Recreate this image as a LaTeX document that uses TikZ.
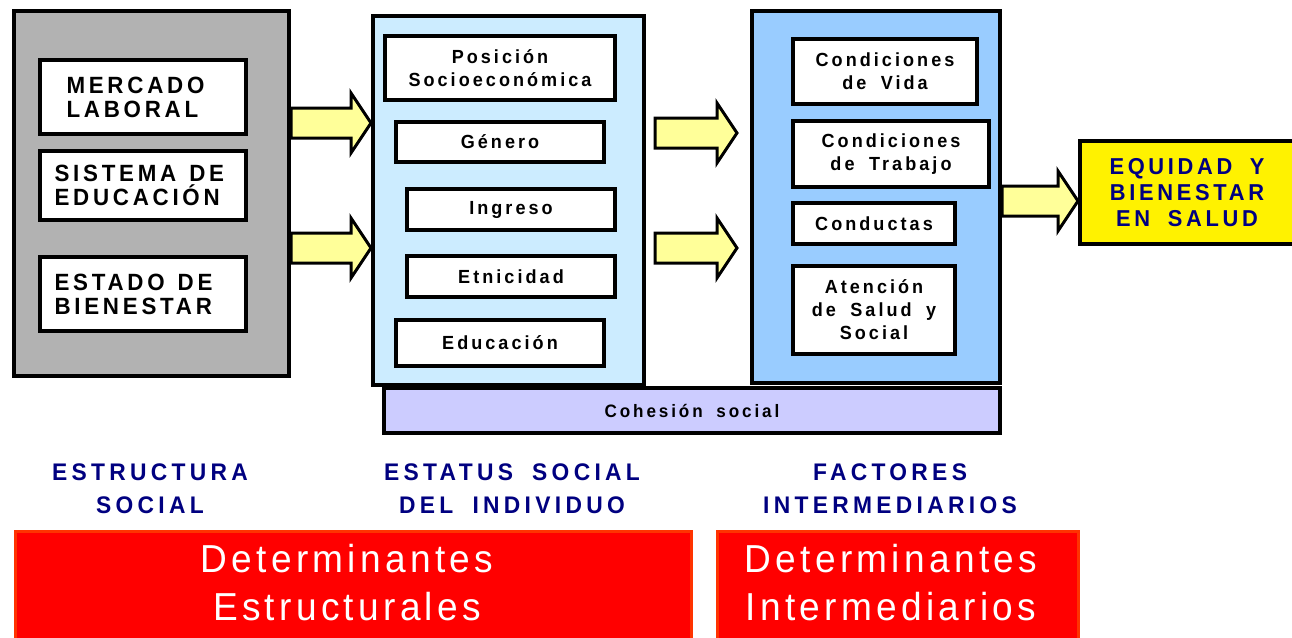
\documentclass[tikz,border=0pt]{standalone}
\usepackage{fontspec}
\setmainfont{Liberation Sans}[FakeStretch=0.95,LetterSpace=16,WordSpace=1.8]
\newfontfamily\labfont{Liberation Sans}[FakeStretch=0.95,LetterSpace=18,WordSpace=1.8]
\newfontfamily\redfont{Liberation Sans}[FakeStretch=0.95,LetterSpace=11]
\usetikzlibrary{calc}
\definecolor{grayfill}{HTML}{B2B2B2}
\definecolor{lblue}{HTML}{CCECFF}
\definecolor{mblue}{HTML}{99CCFF}
\definecolor{lav}{HTML}{CCCCFF}
\definecolor{arrowy}{HTML}{FFFF99}
\definecolor{navy}{HTML}{000080}
\definecolor{redfill}{HTML}{FF0000}
\definecolor{redborder}{HTML}{FF3300}
\newcommand\fatarrow[2]{\draw[fatarr] let \p1=(#1),\p2=(#2) in
  (\x1,\y1-15pt) -- (\x2-20pt,\y1-15pt) -- (\x2-20pt,\y1-30pt) -- (\x2,\y1)
  -- (\x2-20pt,\y1+30pt) -- (\x2-20pt,\y1+15pt) -- (\x1,\y1+15pt) -- cycle;}
\newcommand\widesp{\spaceskip=13pt\relax}
\begin{document}
\begin{tikzpicture}[x=1pt,y=-1pt,
  panel/.style={draw=black,line width=4pt,inner sep=0pt},
  box/.style={draw=black,line width=4pt,fill=white,inner sep=0pt,align=center,
    font=\bfseries\fontsize{19}{23}\selectfont},
  bigbox/.style={box,font=\bfseries\fontsize{23.5}{24}\selectfont,align=left,text width=193pt},
  fatarr/.style={draw=black,line width=3pt,fill=arrowy,line join=miter},
  lab/.style={align=center,text=navy,font=\labfont\bfseries\fontsize{24}{33}\selectfont},
  redb/.style={draw=redborder,line width=3pt,fill=redfill,inner sep=0pt},
  redt/.style={align=center,text=white,inner sep=0pt,font=\redfont\fontsize{39}{48}\selectfont}]
\useasboundingbox (0,0) rectangle (1292,637);
\fill[white] (0,0) rectangle (1292,637);
% panels
\node[panel,fill=grayfill,minimum width=275pt,minimum height=365pt] (gray) at (151.5,193.5) {};
\node[panel,fill=lblue,minimum width=271pt,minimum height=369pt] (estatus) at (508.5,200.5) {};
\node[panel,fill=mblue,minimum width=248pt,minimum height=372pt] (factores) at (876,197) {};
\node[panel,fill=lav,minimum width=616pt,minimum height=45pt,
  font=\bfseries\fontsize{18}{20}\selectfont] (cohe) at (692,410.5) {Cohesión social};
% structure boxes
\node[bigbox,minimum width=206pt,minimum height=74pt] (merc) at (143,97) {\hspace*{20pt}MERCADO\\\hspace*{20pt}LABORAL};
\node[bigbox,minimum width=206pt,minimum height=69pt] (sist) at (143,185.5) {\widesp\hspace*{8pt}SISTEMA DE\\\hspace*{8pt}EDUCACIÓN};
\node[bigbox,minimum width=206pt,minimum height=74pt] (estado) at (143,294) {\widesp\hspace*{8pt}ESTADO DE\\\hspace*{8pt}BIENESTAR};
% status boxes
\node[box,minimum width=230pt,minimum height=64pt] (pos) at (500,68) {Posición\\Socioeconómica};
\node[box,minimum width=208pt,minimum height=40pt] (gen) at (500,142) {Género};
\node[box,minimum width=208pt,minimum height=41pt] (ing) at (511,209.5) {Ingreso};
\node[box,minimum width=208pt,minimum height=41pt] (etn) at (511,276.5) {Etnicidad};
\node[box,minimum width=208pt,minimum height=46pt] (edu) at (500,343) {Educación};
% intermediate boxes
\node[box,minimum width=184pt,minimum height=65pt] (cv) at (885,71.5) {Condiciones\\de Vida};
\node[box,minimum width=196pt,minimum height=66pt] (ct) at (891,154) {Condiciones\\de Trabajo};
\node[box,minimum width=162pt,minimum height=41pt] (cond) at (874,223.5) {Conductas};
\node[box,minimum width=162pt,minimum height=88pt] (aten) at (874,310) {Atención\\de Salud y\\Social};
% outcome
\node[panel,fill=yellow,minimum width=214pt,minimum height=103pt,align=center,text=navy,
  font=\bfseries\fontsize{23}{26}\selectfont] (equi) at (1187,192.5) {EQUIDAD Y\\BIENESTAR\\EN SALUD};
% arrows
\coordinate (a1s) at (gray.east |- 0,123);
\coordinate (a1e) at (estatus.west |- 0,123);
\coordinate (a2s) at (gray.east |- 0,248);
\coordinate (a2e) at (estatus.west |- 0,248);
\coordinate (a3s) at ($(estatus.east |- 0,133)+(9,0)$);
\coordinate (a3e) at ($(factores.west |- 0,133)+(-13,0)$);
\coordinate (a4s) at ($(estatus.east |- 0,248)+(9,0)$);
\coordinate (a4e) at ($(factores.west |- 0,248)+(-13,0)$);
\coordinate (a5s) at (factores.east |- 0,201);
\coordinate (a5e) at (equi.west |- 0,201);
\fatarrow{a1s}{a1e}
\fatarrow{a2s}{a2e}
\fatarrow{a3s}{a3e}
\fatarrow{a4s}{a4e}
\fatarrow{a5s}{a5e}
% labels
\node[lab] (l1) at (150,489) {ESTRUCTURA\\SOCIAL};
\node[lab] (l2) at (512,489) {ESTATUS SOCIAL\\DEL INDIVIDUO};
\node[lab] (l3) at (890,489) {FACTORES\\INTERMEDIARIOS};
% red boxes
\node[redb,minimum width=676pt,minimum height=118pt] (r1) at (353,590) {};
\node[redb,minimum width=361pt,minimum height=118pt] (r2) at (897.5,590) {};
\node[redt] (t1) at (347,583) {Determinantes\\Estructurales};
\node[redt] (t2) at (891,583) {Determinantes\\Intermediarios};
\end{tikzpicture}
\end{document}
